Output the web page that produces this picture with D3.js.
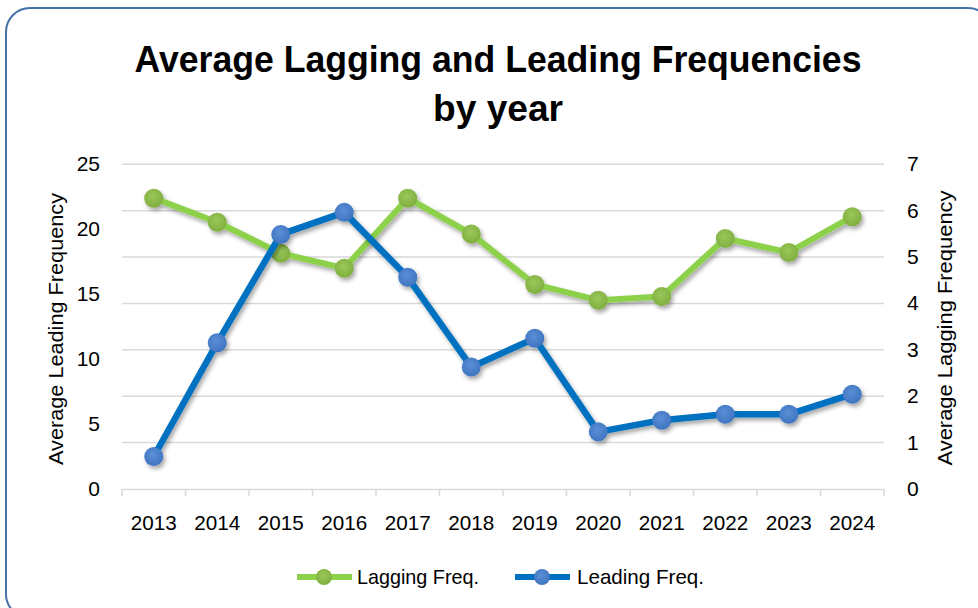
<!DOCTYPE html>
<html>
<head>
<meta charset="utf-8">
<script src="https://cdn.jsdelivr.net/npm/d3@7"></script>
<style>
  html, body { margin: 0; padding: 0; background: #fff; }
  svg { display: block; font-family: 'Liberation Sans', Arial, sans-serif; }
</style>
</head>
<body>
<div id="app"></div>
<script>
// chart data
const years = ['2013', '2014', '2015', '2016', '2017', '2018', '2019', '2020', '2021', '2022', '2023', '2024'];
const laggingFreq = [6.27, 5.75, 5.08, 4.76, 6.27, 5.5, 4.41, 4.07, 4.15, 5.4, 5.1, 5.87];
const leadingFreq = [2.5, 11.26, 19.6, 21.3, 16.3, 9.4, 11.6, 4.4, 5.3, 5.75, 5.75, 7.3];
const leftTicks = [0, 5, 10, 15, 20, 25];
const rightTicks = [0, 1, 2, 3, 4, 5, 6, 7];

const width = 978;
const height = 608;
const plot = { left: 122, right: 884, top: 164.3, bottom: 489 };

const svg = d3.select('#app')
  .append('svg')
  .attr('width', width)
  .attr('height', height);

const defs = svg.append('defs');

// soft shadow under lines and markers
const shadow = defs.append('filter')
  .attr('id', 'shadow')
  .attr('x', '-20%').attr('y', '-20%')
  .attr('width', '140%').attr('height', '140%');
shadow.append('feDropShadow')
  .attr('dx', 2).attr('dy', 3)
  .attr('stdDeviation', 2)
  .attr('flood-color', '#000')
  .attr('flood-opacity', 0.35);

const makeGradient = (id, light, dark) => {
  const g = defs.append('radialGradient')
    .attr('id', id)
    .attr('cx', '45%').attr('cy', '40%').attr('r', '60%');
  g.append('stop').attr('offset', '0%').attr('stop-color', light);
  g.append('stop').attr('offset', '100%').attr('stop-color', dark);
};
makeGradient('greenDot', '#9cc75a', '#7fae3f');
makeGradient('blueDot', '#5b8fd6', '#3f74c0');

// border
svg.append('rect')
  .attr('x', 6).attr('y', 8)
  .attr('width', 986).attr('height', 610)
  .attr('rx', 24).attr('ry', 24)
  .attr('fill', 'none')
  .attr('stroke', '#4472a8')
  .attr('stroke-width', 2);

// title
svg.append('text')
  .attr('x', 498).attr('y', 72)
  .attr('text-anchor', 'middle')
  .attr('font-size', 36).attr('font-weight', 'bold')
  .attr('textLength', 727).attr('lengthAdjust', 'spacingAndGlyphs')
  .text('Average Lagging and Leading Frequencies');
svg.append('text')
  .attr('x', 498).attr('y', 121)
  .attr('text-anchor', 'middle')
  .attr('font-size', 36).attr('font-weight', 'bold')
  .attr('textLength', 130).attr('lengthAdjust', 'spacingAndGlyphs')
  .text('by year');

// scales
const x = d3.scaleBand().domain(years).range([plot.left, plot.right]);
const cx = (d) => x(d) + x.bandwidth() / 2;
const yLeft = d3.scaleLinear().domain([0, 25]).range([plot.bottom, plot.top]);
const yRight = d3.scaleLinear().domain([0, 7]).range([plot.bottom, plot.top]);

// gridlines (from right axis)
svg.append('g')
  .selectAll('line')
  .data(rightTicks.slice(1))
  .enter()
  .append('line')
  .attr('x1', plot.left).attr('x2', plot.right)
  .attr('y1', (d) => yRight(d)).attr('y2', (d) => yRight(d))
  .attr('stroke', '#d9d9d9')
  .attr('stroke-width', 1.5);

// bottom axis
const xAxis = svg.append('g')
  .attr('transform', `translate(0,${plot.bottom})`)
  .call(d3.axisBottom(x).tickSize(0).tickPadding(26));
xAxis.select('.domain').attr('stroke', '#d9d9d9').attr('stroke-width', 1.5);
xAxis.selectAll('text').attr('font-size', 21).attr('fill', '#000')
  .attr('font-family', "'Liberation Sans Narrow', 'Liberation Sans', sans-serif")
  .attr('textLength', 46).attr('lengthAdjust', 'spacingAndGlyphs');
xAxis.selectAll('.edge')
  .data(years.map((d) => x(d)).concat([plot.right]))
  .enter()
  .append('line')
  .attr('x1', (d) => d).attr('x2', (d) => d)
  .attr('y1', 0).attr('y2', 7)
  .attr('stroke', '#d9d9d9')
  .attr('stroke-width', 1.5);

// left axis labels
svg.append('g')
  .selectAll('text')
  .data(leftTicks)
  .enter()
  .append('text')
  .attr('x', 100)
  .attr('y', (d) => yLeft(d) + 7)
  .attr('text-anchor', 'end')
  .attr('font-size', 21)
  .text((d) => d);

// right axis labels
svg.append('g')
  .selectAll('text')
  .data(rightTicks)
  .enter()
  .append('text')
  .attr('x', 907)
  .attr('y', (d) => yRight(d) + 7)
  .attr('font-size', 21)
  .text((d) => d);

// axis titles
svg.append('text')
  .attr('transform', 'translate(63,329) rotate(-90)')
  .attr('text-anchor', 'middle')
  .attr('font-size', 20)
  .attr('textLength', 272).attr('lengthAdjust', 'spacingAndGlyphs')
  .text('Average Leading Frequency');
svg.append('text')
  .attr('transform', 'translate(952,328) rotate(-90)')
  .attr('text-anchor', 'middle')
  .attr('font-size', 20)
  .attr('textLength', 275).attr('lengthAdjust', 'spacingAndGlyphs')
  .text('Average Lagging Frequency');

// series
const series = [
  { name: 'Lagging Freq.', values: laggingFreq, y: yRight, line: '#8cd14a', dot: 'url(#greenDot)', w: 6 },
  { name: 'Leading Freq.', values: leadingFreq, y: yLeft, line: '#0070c0', dot: 'url(#blueDot)', w: 6.5 }
];

series.forEach((s) => {
  const g = svg.append('g').attr('filter', 'url(#shadow)');
  const line = d3.line()
    .x((d, i) => cx(years[i]))
    .y((d) => s.y(d));
  g.append('path')
    .datum(s.values)
    .attr('d', line)
    .attr('fill', 'none')
    .attr('stroke', s.line)
    .attr('stroke-width', s.w)
    .attr('stroke-linejoin', 'round');
  g.selectAll('circle')
    .data(s.values)
    .enter()
    .append('circle')
    .attr('cx', (d, i) => cx(years[i]))
    .attr('cy', (d) => s.y(d))
    .attr('r', 9.5)
    .attr('fill', s.dot);
});

// legend
const legendItems = [
  { x: 297, textX: 357 },
  { x: 515, textX: 577 }
];
series.forEach((s, i) => {
  const lx = legendItems[i].x;
  const g = svg.append('g');
  g.append('line')
    .attr('x1', lx).attr('x2', lx + 55)
    .attr('y1', 577).attr('y2', 577)
    .attr('stroke', s.line)
    .attr('stroke-width', 6);
  g.append('circle')
    .attr('cx', lx + 27).attr('cy', 577)
    .attr('r', 8)
    .attr('fill', s.dot);
  g.append('text')
    .attr('x', legendItems[i].textX).attr('y', 584)
    .attr('font-size', 21)
    .attr('textLength', i === 0 ? 122 : 127).attr('lengthAdjust', 'spacingAndGlyphs')
    .text(s.name);
});
</script>
</body>
</html>
